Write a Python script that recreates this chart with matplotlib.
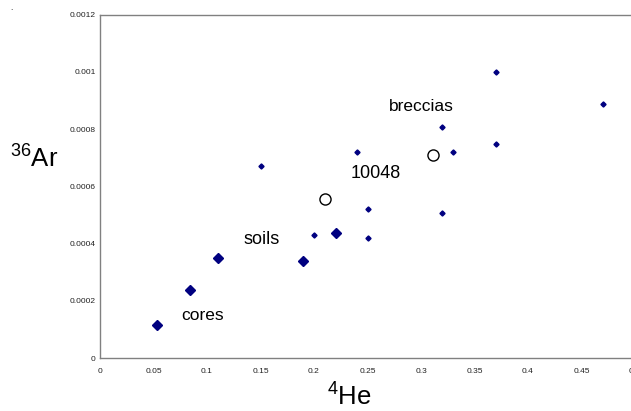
import matplotlib
matplotlib.use("Agg")
import matplotlib.pyplot as plt

plt.rcParams['font.family'] = ['Liberation Sans', 'DejaVu Sans']
plt.rcParams['mathtext.fontset'] = 'custom'
plt.rcParams['mathtext.rm'] = 'Liberation Sans'
plt.rcParams['mathtext.it'] = 'Liberation Sans'

# Data (4He, 36Ar)
soil_he = [0.053, 0.084, 0.110, 0.190, 0.221]
soil_ar = [0.000117, 0.000238, 0.000349, 0.000338, 0.000438]

breccia_he = [0.150, 0.370, 0.470, 0.320, 0.370, 0.330, 0.240, 0.250, 0.320, 0.200, 0.250]
breccia_ar = [0.000671, 0.001000, 0.000889, 0.000809, 0.000749, 0.000719, 0.000720,
              0.000521, 0.000508, 0.000430, 0.000420]

rock_he = [0.210, 0.311]
rock_ar = [0.000555, 0.000711]

xticks = [0, 0.05, 0.1, 0.15, 0.2, 0.25, 0.3, 0.35, 0.4, 0.45, 0.5]
xticklabels = ['0', '0.05', '0.1', '0.15', '0.2', '0.25', '0.3', '0.35', '0.4', '0.45', '0.5']
yticks = [0, 0.0002, 0.0004, 0.0006, 0.0008, 0.001, 0.0012]
yticklabels = ['0', '0.0002', '0.0004', '0.0006', '0.0008', '0.001', '0.0012']

W, H = 631, 411
fig = plt.figure(figsize=(W / 100, H / 100), dpi=100)
ax = fig.add_axes([100 / W, 1 - 358 / H, 535 / W, (358 - 14.7) / H])

navy = '#000080'
ax.plot(soil_he, soil_ar, linestyle='none', marker='D', ms=5.2, color=navy, clip_on=False)
ax.plot(breccia_he, breccia_ar, linestyle='none', marker='D', ms=2.6, color=navy, clip_on=False)
ax.plot(rock_he, rock_ar, linestyle='none', marker='o', ms=8, mfc='white', mec='black', mew=1.0, clip_on=False)

ax.set_xlim(0, 0.5)
ax.set_ylim(0, 0.0012)
ax.set_xticks(xticks)
ax.set_xticklabels(xticklabels)
ax.set_yticks(yticks)
ax.set_yticklabels(yticklabels)
ax.tick_params(axis='both', length=0, labelsize=6, colors='#222222')
ax.tick_params(axis='x', pad=7)
ax.tick_params(axis='y', pad=3)
for s in ax.spines.values():
    s.set_color('#808080')
    s.set_linewidth(1.0)

ax.text(0.300, 0.000878, 'breccias', fontsize=12.5, ha='center', va='center')
ax.text(0.258, 0.000644, '10048', fontsize=13, ha='center', va='center')
ax.text(0.151, 0.000414, 'soils', fontsize=13, ha='center', va='center')
ax.text(0.096, 0.000148, 'cores', fontsize=12.5, ha='center', va='center')

fig.text(34 / W, 1 - 159 / H, r'$^{36}$Ar', fontsize=18.5, ha='center', va='center')
fig.text(349 / W, 1 - 397 / H, r'$^{4}$He', fontsize=18.5, ha='center', va='center')
fig.text(11 / W, 1 - 8 / H, '.', fontsize=6, ha='center', va='center')

fig.savefig('out.png', dpi=100)
